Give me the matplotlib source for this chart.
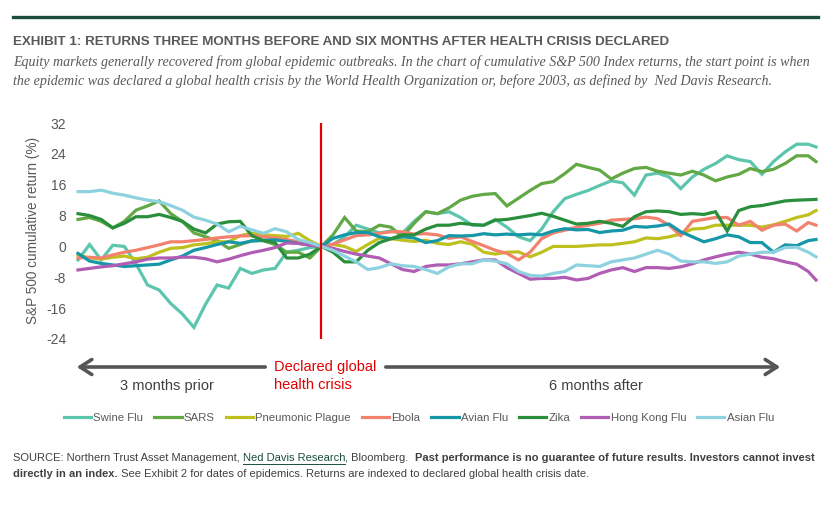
import matplotlib
matplotlib.use('Agg')
import matplotlib.pyplot as plt
from matplotlib.patches import FancyArrowPatch
from matplotlib.lines import Line2D

# trading days relative to the declaration date
days = list(range(-63, 127, 3)) + [128]

swine = [-3.5, 0.5, -3.5, 0.3, 0.0, -4.5, -10.0, -11.3, -14.8, -17.5, -21.0,
         -15.0, -10.0, -10.8, -5.7, -7.0, -6.1, -5.7, -1.5, -1.0, -0.3, 0.0,
         0.5, 2.5, 5.5, 4.5, 3.5, 4.0, 3.5, 6.5, 9.0, 8.5, 9.0, 7.5, 5.5, 5.5,
         7.0, 5.0, 2.5, 1.5, 4.5, 9.0, 12.4, 13.5, 14.5, 15.8, 17.0, 16.5, 13.3,
         18.5, 19.0, 18.0, 15.0, 18.0, 20.0, 21.5, 23.5, 22.5, 22.0, 18.7, 22.0,
         24.5, 26.5, 26.5, 25.8]
sars = [7.0, 7.5, 6.5, 4.8, 6.5, 9.4, 10.5, 11.8, 8.5, 6.5, 3.5,
        2.5, 1.5, -0.5, 0.5, 1.5, 1.5, 0.5, -1.5, -1.5, -3.0, 0.0,
        3.0, 7.5, 4.0, 3.8, 5.5, 5.0, 2.5, 6.0, 9.0, 8.5, 10.0, 12.0, 13.0, 13.5,
        13.7, 10.5, 12.5, 14.5, 16.3, 16.8, 18.9, 21.3, 20.5, 19.8, 17.5, 19.0,
        20.2, 20.5, 19.5, 19.0, 18.5, 19.5, 18.5, 17.0, 18.0, 18.7, 20.2, 19.4,
        20.0, 21.5, 23.5, 23.5, 22.0]
plague = [-2.2, -3.0, -3.3, -2.8, -2.5, -3.2, -2.8, -1.5, -0.5, -0.3, 0.4,
          0.7, 1.2, 1.2, 2.8, 3.4, 3.0, 2.8, 2.6, 3.4, 1.5, 0.0,
          0.5, 0.0, -1.3, 0.5, 2.1, 2.0, 1.6, 1.3, 1.6, 0.8, 0.5, 1.2, 0.6, -1.5,
          -2.0, -1.5, -1.4, -2.7, -1.5, 0.0, 0.0, 0.0, 0.2, 0.4, 0.4, 0.8, 1.2,
          2.2, 2.0, 2.5, 3.2, 4.5, 4.7, 5.5, 5.5, 5.5, 5.5, 5.0, 5.6, 6.5, 7.5,
          8.2, 9.3]
ebola = [-3.0, -2.8, -3.0, -2.2, -1.5, -1.0, -0.3, 0.4, 1.2, 1.2, 1.5,
         1.8, 2.2, 2.5, 2.7, 2.8, 2.5, 2.2, 1.8, 1.2, 0.4, 0.0,
         0.6, 1.7, 2.8, 3.0, 3.4, 3.8, 3.8, 3.2, 3.3, 3.0, 2.1, 2.5, 1.3, 0.2,
         -1.0, -1.8, -3.5, -1.5, 2.0, 3.5, 4.2, 5.0, 5.5, 6.0, 6.8, 7.0, 7.2,
         7.6, 7.2, 5.5, 2.8, 6.5, 7.0, 7.5, 7.5, 5.5, 6.5, 4.2, 5.5, 5.8, 4.0,
         6.2, 5.5]
avian = [-1.8, -3.8, -4.4, -4.8, -5.2, -5.0, -4.8, -4.6, -3.5, -2.5, -1.0,
         -0.3, 0.5, 1.2, 0.8, 1.4, 1.6, 1.7, 1.3, 0.8, 0.4, 0.0,
         2.1, 3.0, 3.6, 3.6, 2.5, 2.0, 2.5, 2.2, 1.0, 1.5, 2.8, 2.7, 2.8, 3.3,
         3.0, 3.2, 3.0, 3.2, 3.0, 4.0, 4.6, 4.3, 4.4, 3.6, 4.0, 4.2, 5.2, 5.0,
         5.3, 5.8, 3.8, 2.5, 1.2, 2.0, 3.0, 2.5, 1.0, 1.0, -1.5, 0.4, 0.2, 1.5,
         1.8]
zika = [8.5, 8.0, 7.0, 4.8, 6.0, 7.7, 7.7, 8.3, 7.5, 6.5, 4.5,
        3.5, 5.8, 6.4, 6.5, 2.8, 1.5, 1.0, -3.0, -3.0, -2.0, 0.0,
        -1.5, -4.0, -4.0, -1.0, 1.0, 2.0, 3.0, 3.0, 4.5, 5.5, 5.5, 6.0, 5.7,
        5.5, 6.8, 7.0, 7.5, 8.0, 8.6, 7.8, 6.8, 5.8, 6.0, 6.5, 6.0, 5.2, 7.7,
        9.0, 9.2, 9.0, 8.3, 8.5, 8.3, 9.0, 4.0, 9.3, 10.3, 10.6, 11.2, 11.8,
        12.0, 12.1, 12.2]
hongkong = [-6.1, -5.7, -5.3, -5.0, -4.5, -4.0, -3.3, -3.0, -3.0, -2.8, -2.8,
            -3.2, -4.0, -3.3, -2.4, -1.6, -1.0, -0.3, 0.9, 0.8, 0.3, 0.0,
            -0.5, -1.3, -2.0, -2.5, -3.0, -4.5, -6.0, -6.5, -5.2, -4.8, -4.8,
            -4.5, -4.0, -3.5, -3.5, -5.5, -7.0, -8.5, -8.3, -8.3, -8.0, -8.7,
            -8.3, -7.0, -6.1, -5.5, -6.5, -5.5, -5.5, -5.7, -5.3, -4.5, -3.5,
            -2.7, -2.0, -1.5, -2.0, -2.8, -3.2, -4.0, -4.6, -6.5, -8.7]
asian = [14.2, 14.2, 14.6, 13.8, 13.3, 12.6, 12.0, 11.6, 10.6, 9.4, 7.6,
         6.8, 5.8, 3.8, 5.2, 4.3, 3.4, 4.6, 3.8, 1.8, 1.0, 0.0,
         -1.0, -2.5, -4.0, -6.0, -5.5, -4.5, -5.0, -5.2, -6.0, -7.0, -5.3,
         -4.5, -4.5, -3.5, -3.8, -4.5, -6.5, -7.5, -7.7, -7.0, -6.5, -4.8,
         -5.0, -5.2, -4.0, -3.5, -3.0, -2.0, -1.0, -2.0, -3.8, -4.0, -4.0,
         -4.4, -4.0, -2.5, -2.0, -1.5, -1.5, -0.3, -0.2, -1.5, -2.7]

names = ['Swine Flu', 'SARS', 'Pneumonic Plague', 'Ebola', 'Avian Flu',
         'Zika', 'Hong Kong Flu', 'Asian Flu']
series = [swine, sars, plague, ebola, avian, zika, hongkong, asian]
colors = ['#5cc5ad', '#62a844', '#bfc01e', '#f2826e', '#1597a8',
          '#2a8f3c', '#b05db3', '#8ed2e0']
yticks = [-24, -16, -8, 0, 8, 16, 24, 32]

W, H = 827, 521
GRAY = '#595959'
DARK = '#404040'
SANS = ['Liberation Sans', 'DejaVu Sans']


def fx(px):
    return px / W


def fy(py):
    return 1 - py / H


fig = plt.figure(figsize=(W / 100, H / 100), dpi=100)
renderer = fig.canvas.get_renderer()

# plot area: x from -63 to 128 days, y from -26 to 34 %
ax = fig.add_axes([fx(78), fy(346.7), (816 - 78) / W, (346.7 - 115.3) / H])
for name, vals, c in zip(names, series, colors):
    ax.plot(days, vals, color=c, lw=2.3, label=name, solid_joinstyle='miter',
            clip_on=False)
ax.vlines(0, -24, 32, color='#e00000', lw=1.6, zorder=10)
ax.set_xlim(-63, 128)
ax.set_ylim(-26, 34)
ax.set_yticks(yticks)
ax.set_yticklabels([str(v) for v in yticks], family=SANS, fontsize=10, color=GRAY)
ax.tick_params(axis='y', length=0, pad=8.5)
ax.set_xticks([])
for s in ax.spines.values():
    s.set_visible(False)

fig.text(fx(33), fy(230), 'S&P 500 cumulative return (%)', rotation=90,
         ha='center', va='center', fontsize=9.8, color=GRAY, family=SANS)


def fit(t, width_px):
    bb = t.get_window_extent(renderer)
    t.set_fontsize(t.get_fontsize() * width_px / bb.width)


# header
fig.add_artist(Line2D([fx(13), fx(818)], [fy(17), fy(17)], color='#1b4d3e', lw=2.4))
t = fig.text(fx(13), fy(42), 'EXHIBIT 1: RETURNS THREE MONTHS BEFORE AND SIX MONTHS AFTER HEALTH CRISIS DECLARED',
             fontsize=9, fontweight='bold', color=GRAY, family=SANS, va='center')
fit(t, 659)
t = fig.text(fx(13), fy(62), 'Equity markets generally recovered from global epidemic outbreaks. In the chart of cumulative S&P 500 Index returns, the start point is when',
             fontsize=10, style='italic', color=GRAY, family='Liberation Serif', va='center')
fit(t, 797)
sub_size = t.get_fontsize()
fig.text(fx(13), fy(81), 'the epidemic was declared a global health crisis by the World Health Organization or, before 2003, as defined by  Ned Davis Research.',
         fontsize=sub_size, style='italic', color=GRAY, family='Liberation Serif', va='center')

# timeline arrows
arrow_kw = dict(transform=fig.transFigure, arrowstyle='->,head_length=0.7,head_width=0.45',
                color='#555555', lw=2.6, mutation_scale=12)
fig.add_artist(FancyArrowPatch((fx(268), fy(367)), (fx(74), fy(367)), **arrow_kw))
fig.add_artist(FancyArrowPatch((fx(383), fy(367)), (fx(783), fy(367)), **arrow_kw))
fig.text(fx(274), fy(367), 'Declared global', color='#e00000', fontsize=10.5,
         family=SANS, va='center')
fig.text(fx(274), fy(385), 'health crisis', color='#e00000', fontsize=10.5,
         family=SANS, va='center')
fig.text(fx(167), fy(386), '3 months prior', color=DARK, fontsize=10.5,
         family=SANS, ha='center', va='center')
fig.text(fx(596), fy(386), '6 months after', color=DARK, fontsize=10.5,
         family=SANS, ha='center', va='center')

# legend
fig.legend(loc='center', bbox_to_anchor=(fx(419), fy(418)), ncol=8, frameon=False,
           handlelength=2.4, handletextpad=0.2, columnspacing=0.95,
           prop={'family': SANS, 'size': 8.2}, labelcolor=GRAY)

# footer with mixed styles
runs1 = [('SOURCE: Northern Trust Asset Management, ', 'normal', DARK, False),
         ('Ned Davis Research', 'normal', '#1b4d3e', True),
         (', Bloomberg.  ', 'normal', DARK, False),
         ('Past performance is no guarantee of future results. Investors cannot invest', 'bold', DARK, False)]
runs2 = [('directly in an index.', 'bold', DARK, False),
         (' See Exhibit 2 for dates of epidemics. Returns are indexed to declared global health crisis date.', 'normal', DARK, False)]


def put_runs(runs, y_px, size):
    x = fx(13)
    for txt, weight, color, under in runs:
        t = fig.text(x, fy(y_px), txt, fontsize=size, fontweight=weight, color=color,
                     family=SANS, va='baseline')
        bb = t.get_window_extent(renderer)
        if under:
            fig.add_artist(Line2D([bb.x0 / W, bb.x1 / W], [(bb.y0 - 0.5) / H] * 2,
                                  color=color, lw=0.7))
        x = bb.x1 / W


# the first footer line runs the full width; measure it to pick the size
probe = [fig.text(0, 0, txt, fontsize=10, fontweight=wt, family=SANS)
         for txt, wt, _, _ in runs1]
total = sum(p.get_window_extent(renderer).width for p in probe)
for p in probe:
    p.remove()
foot_size = 10 * 803 / total

put_runs(runs1, 461, foot_size)
put_runs(runs2, 477, foot_size)

fig.savefig('out.png', dpi=100)
